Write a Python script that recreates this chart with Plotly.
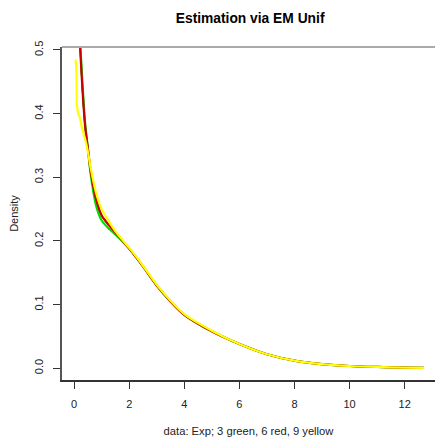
import plotly.graph_objects as go

x_vals = [0.03, 0.05, 0.08, 0.1, 0.15, 0.2, 0.3, 0.4, 0.5, 0.6, 0.8, 1.0, 1.2, 1.5, 1.8, 2.0, 2.5, 3.0,
          3.5, 4.0, 5.0, 6.0, 7.0, 8.0, 9.0, 10.0, 11.0, 12.0, 12.7]
true_density = [0.80, 0.74, 0.67, 0.62, 0.57, 0.52, 0.44, 0.38, 0.345, 0.31, 0.265, 0.24, 0.228, 0.213,
                0.198, 0.188, 0.16, 0.13, 0.105, 0.084, 0.058, 0.038, 0.022, 0.012, 0.0065, 0.0035,
                0.002, 0.001, 0.0005]
green_fit = [0.82, 0.76, 0.69, 0.64, 0.58, 0.53, 0.45, 0.385, 0.345, 0.305, 0.255, 0.232, 0.222, 0.21,
             0.197, 0.188, 0.16, 0.13, 0.105, 0.084, 0.058, 0.038, 0.022, 0.012, 0.0065, 0.0035,
             0.002, 0.001, 0.0005]
red_fit = [0.80, 0.74, 0.67, 0.62, 0.57, 0.52, 0.44, 0.38, 0.345, 0.31, 0.265, 0.24, 0.228, 0.213,
           0.198, 0.188, 0.16, 0.13, 0.105, 0.084, 0.058, 0.038, 0.022, 0.012, 0.0065, 0.0035,
           0.002, 0.001, 0.0005]
yellow_fit = [None, 0.485, 0.47, 0.415, 0.40, 0.395, 0.375, 0.36, 0.34, 0.315, 0.275, 0.25, 0.235,
              0.215, 0.199, 0.189, 0.161, 0.131, 0.106, 0.085, 0.059, 0.038, 0.022, 0.012, 0.0065,
              0.0035, 0.002, 0.001, 0.0005]

x_ticks = [0, 2, 4, 6, 8, 10, 12]
y_ticks = [0.0, 0.1, 0.2, 0.3, 0.4, 0.5]
y_tick_labels = ["0.0", "0.1", "0.2", "0.3", "0.4", "0.5"]

fig = go.Figure()
line_common = dict(shape="spline", smoothing=0.7)
fig.add_trace(go.Scatter(x=x_vals, y=true_density, mode="lines", line=dict(color="black", width=1.5, **line_common), showlegend=False))
fig.add_trace(go.Scatter(x=x_vals, y=green_fit, mode="lines", line=dict(color="#00dd00", width=2.2, **line_common), showlegend=False))
fig.add_trace(go.Scatter(x=x_vals, y=red_fit, mode="lines", line=dict(color="#cc0000", width=2.2, **line_common), showlegend=False))
fig.add_trace(go.Scatter(x=x_vals, y=yellow_fit, mode="lines", line=dict(color="#ffff00", width=2.2, **line_common), showlegend=False))

fig.add_shape(type="line", xref="paper", yref="paper", x0=0, x1=1, y0=1, y1=1,
              line=dict(color="#aaaaaa", width=2))

font_family = "Liberation Sans, Arial, sans-serif"
fig.update_layout(
    width=435, height=437,
    margin=dict(l=62, r=0, t=47, b=57, autoexpand=False),
    paper_bgcolor="white", plot_bgcolor="white",
    font=dict(family=font_family, size=11, color="#222"),
    title=dict(text="<b>Estimation via EM Unif</b>", x=0.575, xanchor="center", y=0.958, yanchor="middle",
               font=dict(size=13.8, color="black")),
    xaxis=dict(range=[-0.44, 13.1], tickvals=x_ticks, ticks="outside", ticklen=7, tickcolor="#333",
               showline=True, linecolor="#333", linewidth=1.5, showgrid=False, zeroline=False,
               ticklabelstandoff=6, tickfont=dict(size=11), automargin=False,
               title=dict(text="data: Exp; 3 green, 6 red, 9 yellow", font=dict(size=11.2), standoff=19)),
    yaxis=dict(range=[-0.0185, 0.5047], tickvals=y_ticks, ticktext=y_tick_labels, ticks="outside", ticklen=7,
               tickcolor="#333", showline=True, linecolor="#555", linewidth=1.5, showgrid=False,
               zeroline=False, tickangle=-90, ticklabelstandoff=6, tickfont=dict(size=11), automargin=False,
               title=dict(text="Density", font=dict(size=11), standoff=12)),
)

fig.write_html("out.html", config={"displayModeBar": False},
               post_script="document.body.style.margin='0';document.body.style.overflow='hidden';")
